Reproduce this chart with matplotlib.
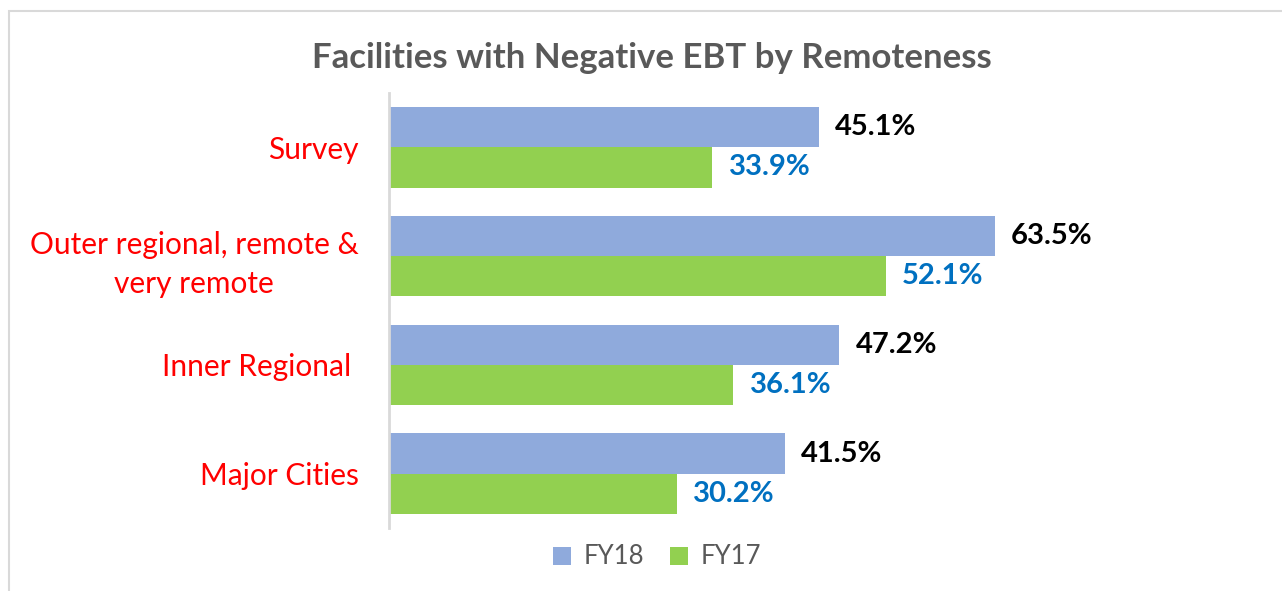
import matplotlib.pyplot as plt
from matplotlib.patches import Rectangle
import numpy as np

# data
categories = ["Major Cities", "Inner Regional ", "Outer regional, remote &\nvery remote", "Survey"]
fy18 = [41.5, 47.2, 63.5, 45.1]
fy17 = [30.2, 36.1, 52.1, 33.9]
series_names = ["FY18", "FY17"]

plt.rcParams['font.family'] = ['Lato', 'DejaVu Sans']

fig = plt.figure(figsize=(12.82, 5.91), dpi=100)
W, H = 1282, 591

# chart border
fig.patches.append(Rectangle((9 / W, -0.1), 1.2, 1 - 11 / H + 0.1, transform=fig.transFigure,
                             fill=False, edgecolor='#D9D9D9', linewidth=1.5))

ax = fig.add_axes([389 / W, 1 - 528 / H, (1255 - 389) / W, (528 - 93) / H])

y = np.arange(len(categories))
h = 0.37
b18 = ax.barh(y + h / 2, fy18, height=h, color='#8FAADC', label=series_names[0])
b17 = ax.barh(y - h / 2, fy17, height=h, color='#92D050', label=series_names[1])

for rect, v in zip(b18, fy18):
    ax.text(v + 1.7, rect.get_y() + rect.get_height() / 2, f"{v:.1f}%",
            va='center', ha='left', fontsize=21, fontweight='bold', color='black')
for rect, v in zip(b17, fy17):
    ax.text(v + 1.7, rect.get_y() + rect.get_height() / 2, f"{v:.1f}%",
            va='center', ha='left', fontsize=21, fontweight='bold', color='#0070C0')

ax.set_xlim(0, 90.8)
ax.set_ylim(-0.5, len(categories) - 0.5)
ax.set_yticks(y)
ax.set_yticklabels(categories, fontsize=21.5, color='red', multialignment='center',
                   linespacing=1.5)
ax.tick_params(axis='y', length=0, pad=22)
ax.set_xticks([])
for s in ['top', 'right', 'bottom']:
    ax.spines[s].set_visible(False)
ax.spines['left'].set_color('#D9D9D9')
ax.spines['left'].set_linewidth(2)

fig.text(652 / W, 1 - 58 / H, "Facilities with Negative EBT by Remoteness",
         ha='center', va='center', fontsize=25, fontweight='bold', color='#595959')

ax.legend(handles=[b18, b17], loc='center', bbox_to_anchor=(657 / W, 1 - 557 / H),
          bbox_transform=fig.transFigure, ncol=2, frameon=False, fontsize=18.5,
          labelcolor='#595959', handlelength=0.7, handleheight=0.7, columnspacing=1.0,
          handletextpad=0.5)

fig.savefig("out.png", dpi=100)
